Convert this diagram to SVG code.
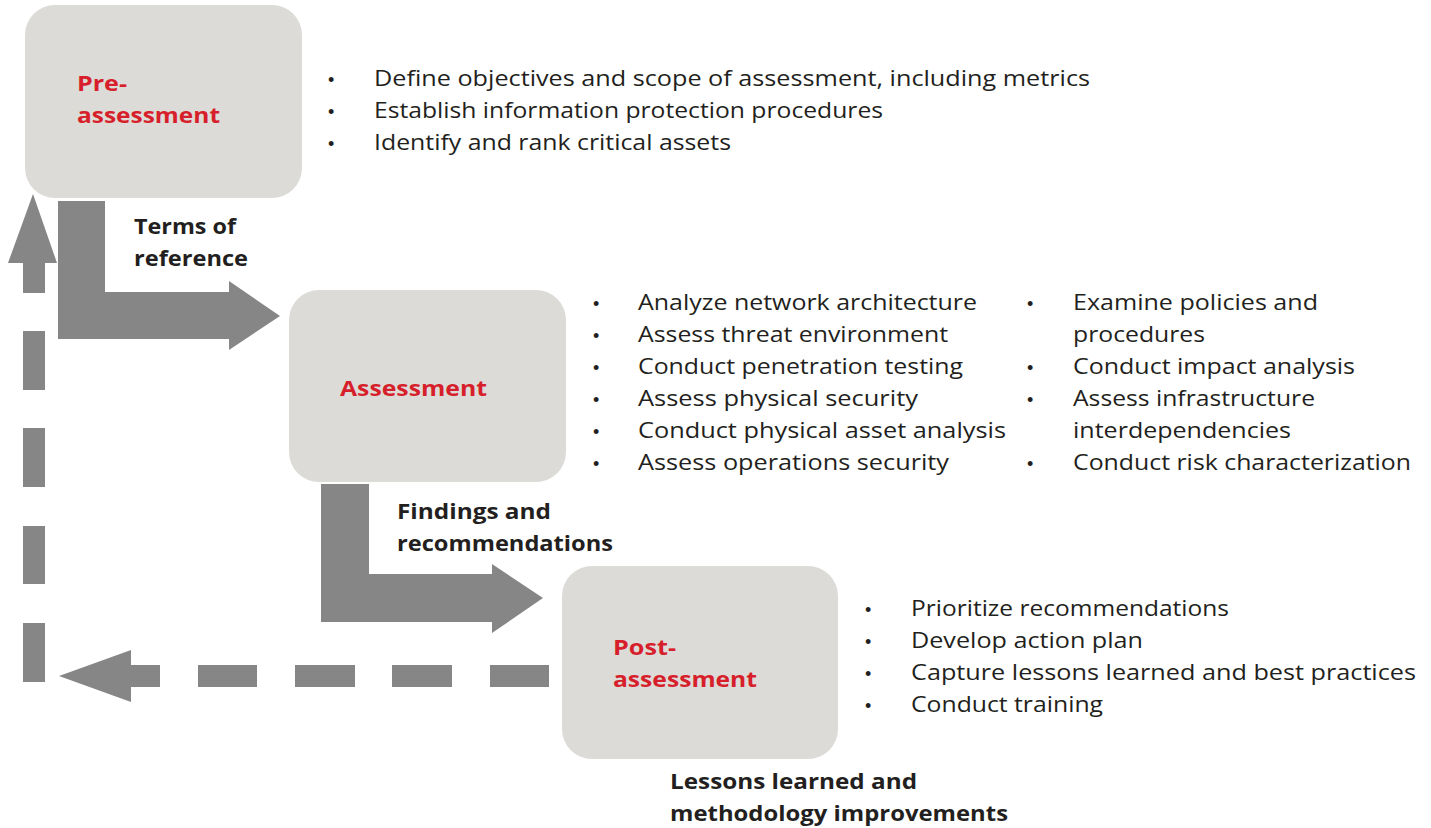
<svg xmlns="http://www.w3.org/2000/svg" width="1431" height="828" viewBox="0 0 1431 828">
<style>
.box{fill:#dcdbd8}
text{font-family:"Open Sans","Liberation Sans",Arial,sans-serif}
.title{font-weight:bold;font-size:22px;fill:#d71f2b}
.item{font-size:22px;fill:#231f20}
.bul{font-family:"Liberation Sans",Arial,sans-serif;font-size:18px;fill:#231f20}
.lbl{font-weight:bold;font-size:22px;fill:#231f20}
.arr{fill:#868686}
</style>
<rect width="1431" height="828" fill="#ffffff"/>
<g id="connectors">
  <path class="arr" d="M58,201 H105 V292 H229 V281 L280,316 L229,350 V339 H58 Z"/>
  <path class="arr" d="M321,484 H369 V574 H492 V564 L543,598 L492,633 V622 H321 Z"/>
  <g id="feedback">
    <rect class="arr" x="490" y="665" width="59" height="22"/>
    <rect class="arr" x="392" y="665" width="60" height="22"/>
    <rect class="arr" x="295" y="665" width="60" height="22"/>
    <rect class="arr" x="198" y="665" width="59" height="22"/>
    <path class="arr" d="M160,665 V687 H131 V702 L59,676 L131,650 V665 Z"/>
    <rect class="arr" x="23" y="623" width="22" height="59"/>
    <rect class="arr" x="23" y="526" width="22" height="58"/>
    <rect class="arr" x="23" y="428" width="22" height="59"/>
    <rect class="arr" x="23" y="331" width="22" height="59"/>
    <path class="arr" d="M23,293 H45 V263 H57 L33,194 L8,263 H23 Z"/>
  </g>
  <text class="lbl" x="134" y="234" textLength="102" lengthAdjust="spacingAndGlyphs">Terms of</text>
  <text class="lbl" x="134" y="266" textLength="114" lengthAdjust="spacingAndGlyphs">reference</text>
  <text class="lbl" x="397" y="519" textLength="154" lengthAdjust="spacingAndGlyphs">Findings and</text>
  <text class="lbl" x="397" y="551" textLength="216" lengthAdjust="spacingAndGlyphs">recommendations</text>
  <text class="lbl" x="670" y="789" textLength="247" lengthAdjust="spacingAndGlyphs">Lessons learned and</text>
  <text class="lbl" x="670" y="821" textLength="338" lengthAdjust="spacingAndGlyphs">methodology improvements</text>
</g>
<g id="pre-assessment">
  <rect class="box" x="25" y="5" width="277" height="193" rx="30"/>
  <text class="title" x="77" y="91" textLength="50" lengthAdjust="spacingAndGlyphs">Pre-</text>
  <text class="title" x="77" y="123" textLength="143" lengthAdjust="spacingAndGlyphs">assessment</text>
  <g>
    <text class="bul" x="328" y="86">•</text>
    <text class="bul" x="328" y="118">•</text>
    <text class="bul" x="328" y="150">•</text>
    <text class="item" x="374" y="86" textLength="716" lengthAdjust="spacingAndGlyphs">Define objectives and scope of assessment, including metrics</text>
    <text class="item" x="374" y="118" textLength="509" lengthAdjust="spacingAndGlyphs">Establish information protection procedures</text>
    <text class="item" x="374" y="150" textLength="357" lengthAdjust="spacingAndGlyphs">Identify and rank critical assets</text>
  </g>
</g>
<g id="assessment">
  <rect class="box" x="289" y="290" width="277" height="192" rx="30"/>
  <text class="title" x="340" y="396" textLength="147" lengthAdjust="spacingAndGlyphs">Assessment</text>
  <g>
    <text class="bul" x="593" y="310">•</text>
    <text class="bul" x="593" y="342">•</text>
    <text class="bul" x="593" y="374">•</text>
    <text class="bul" x="593" y="406">•</text>
    <text class="bul" x="593" y="438">•</text>
    <text class="bul" x="593" y="470">•</text>
    <text class="item" x="638" y="310" textLength="339" lengthAdjust="spacingAndGlyphs">Analyze network architecture</text>
    <text class="item" x="638" y="342" textLength="310" lengthAdjust="spacingAndGlyphs">Assess threat environment</text>
    <text class="item" x="638" y="374" textLength="325" lengthAdjust="spacingAndGlyphs">Conduct penetration testing</text>
    <text class="item" x="638" y="406" textLength="280" lengthAdjust="spacingAndGlyphs">Assess physical security</text>
    <text class="item" x="638" y="438" textLength="368" lengthAdjust="spacingAndGlyphs">Conduct physical asset analysis</text>
    <text class="item" x="638" y="470" textLength="311" lengthAdjust="spacingAndGlyphs">Assess operations security</text>
    <text class="bul" x="1027" y="310">•</text>
    <text class="bul" x="1027" y="374">•</text>
    <text class="bul" x="1027" y="406">•</text>
    <text class="bul" x="1027" y="470">•</text>
    <text class="item" x="1073" y="310" textLength="245" lengthAdjust="spacingAndGlyphs">Examine policies and</text>
    <text class="item" x="1073" y="342" textLength="132" lengthAdjust="spacingAndGlyphs">procedures</text>
    <text class="item" x="1073" y="374" textLength="282" lengthAdjust="spacingAndGlyphs">Conduct impact analysis</text>
    <text class="item" x="1073" y="406" textLength="242" lengthAdjust="spacingAndGlyphs">Assess infrastructure</text>
    <text class="item" x="1073" y="438" textLength="218" lengthAdjust="spacingAndGlyphs">interdependencies</text>
    <text class="item" x="1073" y="470" textLength="338" lengthAdjust="spacingAndGlyphs">Conduct risk characterization</text>
  </g>
</g>
<g id="post-assessment">
  <rect class="box" x="562" y="566" width="276" height="193" rx="30"/>
  <text class="title" x="613" y="655" textLength="63" lengthAdjust="spacingAndGlyphs">Post-</text>
  <text class="title" x="613" y="687" textLength="144" lengthAdjust="spacingAndGlyphs">assessment</text>
  <g>
    <text class="bul" x="865" y="616">•</text>
    <text class="bul" x="865" y="648">•</text>
    <text class="bul" x="865" y="680">•</text>
    <text class="bul" x="865" y="712">•</text>
    <text class="item" x="911" y="616" textLength="318" lengthAdjust="spacingAndGlyphs">Prioritize recommendations</text>
    <text class="item" x="911" y="648" textLength="232" lengthAdjust="spacingAndGlyphs">Develop action plan</text>
    <text class="item" x="911" y="680" textLength="505" lengthAdjust="spacingAndGlyphs">Capture lessons learned and best practices</text>
    <text class="item" x="911" y="712" textLength="192" lengthAdjust="spacingAndGlyphs">Conduct training</text>
  </g>
</g>
</svg>
